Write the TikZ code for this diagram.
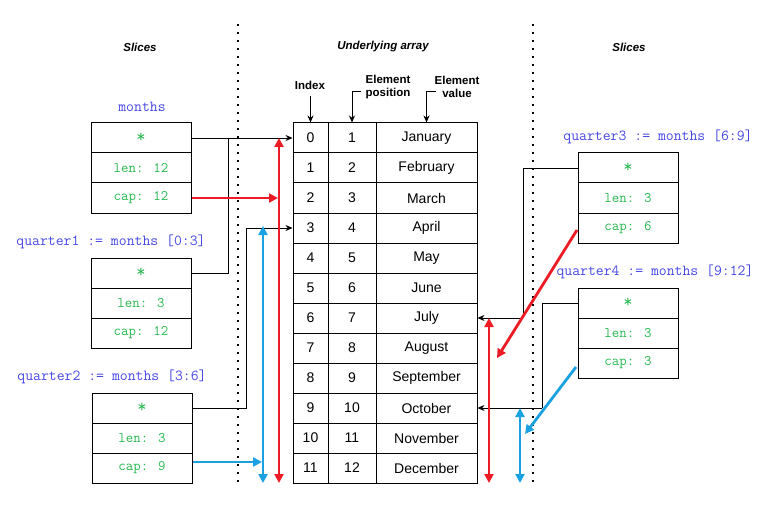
\documentclass[tikz,border=0pt]{standalone}
\usepackage{fontspec}
\setmainfont{Liberation Sans}
\newcommand\monof{\ttfamily\addfontfeatures{FakeBold=1.6}}
\newcommand\starsym{{\fontsize{18}{18}\selectfont\raisebox{-3pt}{*}}}
\usetikzlibrary{arrows.meta}
\definecolor{lblue}{RGB}{70,70,228}
\definecolor{tgreen}{RGB}{38,184,78}
\definecolor{ared}{RGB}{237,28,36}
\definecolor{ablue}{RGB}{27,161,226}
\begin{document}
\begin{tikzpicture}[x=1pt,y=-1pt,
  cell/.style={draw, line width=1pt, minimum height=30pt, inner sep=0pt, font=\fontsize{14}{16}\selectfont},
  sbox/.style={draw, line width=1pt, minimum width=100pt, minimum height=30pt, inner sep=0pt, text=tgreen, font=\monof\fontsize{14.5}{16}\selectfont},
  slabel/.style={text=lblue, font=\monof\fontsize{15.3}{17}\selectfont, inner sep=0pt},
  title/.style={font=\bfseries\itshape\fontsize{11.5}{13}\selectfont},
  head/.style={font=\bfseries\fontsize{11.5}{13}\selectfont, align=center, inner sep=0pt},
  conn/.style={draw, line width=0.9pt, -{Stealth[length=7pt,width=6pt]}},
  plain/.style={draw, line width=0.9pt},
  redarr/.style={draw=ared, line width=2.8pt, -{Triangle[length=9pt,width=9pt]}},
  bluearr/.style={draw=ablue, line width=2.8pt, -{Triangle[length=9pt,width=9pt]}},
  redboth/.style={draw=ared, line width=2.8pt, {Triangle[length=9pt,width=9pt]}-{Triangle[length=9pt,width=9pt]}},
  blueboth/.style={draw=ablue, line width=2.8pt, {Triangle[length=9pt,width=9pt]}-{Triangle[length=9pt,width=9pt]}},
  sep/.style={draw, line width=2pt, dash pattern=on 2pt off 6pt}
]
\useasboundingbox (0,0) rectangle (774,516);

% separators
\coordinate (s1t) at (238,24); \coordinate (s1b) at (238,486);
\coordinate (s2t) at (533,24); \coordinate (s2b) at (533,486);
\path[sep] (s1t) -- (s1b);
\path[sep] (s2t) -- (s2b);

% titles
\node[title] (t1) at (140,47) {Slices};
\node[title] (t2) at (383,47) {Underlying array};
\node[title] (t3) at (629,47) {Slices};

% table
\foreach \i/\m in {0/January,1/February,2/March,3/April,4/May,5/June,6/July,7/August,8/September,9/October,10/November,11/December}{
  \pgfmathtruncatemacro{\p}{\i+1}
  \node[cell, minimum width=35pt] (idx\i) at (310.5,138+30*\i) {\i};
  \node[cell, minimum width=48pt] (pos\i) at (352,138+30*\i) {\p};
  \node[cell, minimum width=101pt] (val\i) at (426.5,138+30*\i) {\m};
}

% header labels
\node[head] (hidx) at (310,85) {Index};
\node[head] (hpos) at (388,87) {Element\\position};
\node[head] (hval) at (457,87) {Element\\value};
\coordinate (hidxa) at (310.5,96);
\coordinate (hposa) at (361,91);
\coordinate (hvala) at (436,91);
\path[conn] (hidxa) -- (idx0.north);
\path[conn] (hposa) -| (pos0.north);
\path[conn] (hvala) -| (val0.north);

% left slices
\node[slabel] (lm) at (142,107) {months};
\node[sbox] (mp) at (141,138) {\starsym};
\node[sbox] (ml) at (141,168) {len: 12};
\node[sbox] (mc) at (141,198) {cap: 12};

\node[slabel] (lq1) at (111,242) {quarter1 := months [0:3]};
\node[sbox] (q1p) at (141,273) {\starsym};
\node[sbox] (q1l) at (141,303) {len: 3};
\node[sbox] (q1c) at (141,333) {cap: 12};

\node[slabel] (lq2) at (112,377) {quarter2 := months [3:6]};
\node[sbox] (q2p) at (142,408) {\starsym};
\node[sbox] (q2l) at (142,438) {len: 3};
\node[sbox] (q2c) at (142,468) {cap: 9};

% right slices
\node[slabel] (lq3) at (658,137) {quarter3 := months [6:9]};
\node[sbox] (q3p) at (628,168) {\starsym};
\node[sbox] (q3l) at (628,198) {len: 3};
\node[sbox] (q3c) at (628,228) {cap: 6};

\node[slabel] (lq4) at (655,272) {quarter4 := months [9:12]};
\node[sbox] (q4p) at (628,303) {\starsym};
\node[sbox] (q4l) at (628,333) {len: 3};
\node[sbox] (q4c) at (628,363) {cap: 3};

% pointer connectors
\path[conn] (mp.east) -- (idx0.west);
\coordinate (j1) at (228,138);
\path[plain] (q1p.east) -| (j1);
\coordinate (j2) at (246,228);
\path[plain] (q2p.east) -| (j2);
\path[conn] (j2) -- (idx3.west);
\coordinate (j3) at (523,318);
\path[plain] (q3p.west) -| (j3);
\path[conn] (j3) -- (val6.east);
\coordinate (j4) at (542,408);
\path[plain] (q4p.west) -| (j4);
\path[conn] (j4) -- (val9.east);

% capacity arrows left
\coordinate (r1t) at (279,138); \coordinate (r1b) at (279,483);
\path[redboth] (r1t) -- (r1b);
\coordinate (r1h) at (278,199);
\path[redarr] (mc.east) -- (mc.east -| r1h);
\coordinate (b1t) at (263,226); \coordinate (b1b) at (263,483);
\path[blueboth] (b1t) -- (b1b);
\coordinate (b1h) at (262,462);
\coordinate (b1s) at ([yshift=6pt]q2c.east);
\path[bluearr] (b1s) -- (b1s -| b1h);

% capacity arrows right
\coordinate (r2t) at (489,318); \coordinate (r2b) at (489,483);
\path[redboth] (r2t) -- (r2b);
\coordinate (r2s) at (577,230); \coordinate (r2e) at (497,358);
\path[redarr] (r2s) -- (r2e);
\coordinate (b2t) at (520,408); \coordinate (b2b) at (520,483);
\path[blueboth] (b2t) -- (b2b);
\coordinate (b2s) at (576,367); \coordinate (b2e) at (525,434);
\path[bluearr] (b2s) -- (b2e);
\end{tikzpicture}
\end{document}
